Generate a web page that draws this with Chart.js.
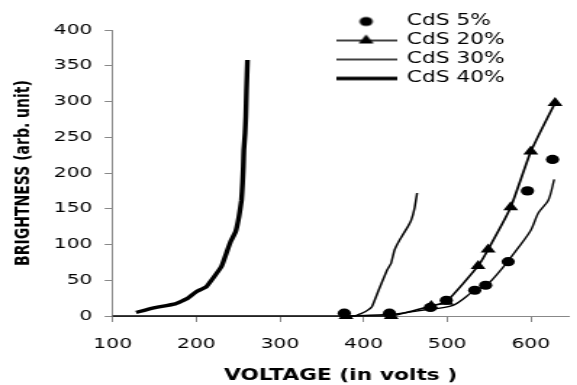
<!DOCTYPE html>
<html><head><meta charset="utf-8">
<script src="https://cdn.jsdelivr.net/npm/chart.js@4.4.1/dist/chart.umd.min.js"></script>
<style>
html,body{margin:0;padding:0;background:#fff;overflow:hidden;width:577px;height:385px}
#c{display:block;transform:scaleX(1.45);transform-origin:0 0}
</style></head>
<body>
<canvas id="c" width="398" height="385" style="width:398px;height:385px"></canvas>
<script>
// ---- data (voltage in volts, brightness in arb. unit) ----
const cds5V   = [377, 431, 480, 499, 533, 546, 573, 596, 626];
const cds5B   = [4, 4, 12, 22, 36, 43, 76, 175, 219];
const trend5V = [380, 431, 470, 507, 533, 547, 566, 586, 600, 609, 621, 628];
const trend5B = [0, 2, 8, 15, 36, 43, 67, 97, 120, 144, 162, 191];
const cds20V  = [379, 433, 481, 499, 537, 549, 576, 600, 629];
const cds20B  = [0, 0, 14, 20, 70, 93, 152, 230, 298];
const cds30V  = [100, 390, 396, 402, 410, 418, 428, 433, 437, 443, 453, 457, 461, 464];
const cds30B  = [0, 0, 3, 6, 13, 36, 64, 74, 92, 106, 125, 134, 151, 172];
const cds40V  = [128, 148, 175, 190, 200, 212, 230, 236, 241, 247, 251, 254, 255.3, 256.2, 256.8, 258.3, 259.2, 260, 261.2];
const cds40B  = [5, 11, 17, 25, 34, 41, 69, 88, 104, 118, 139, 162, 186, 209, 232, 256, 279, 316, 358];
const seriesNames = ['CdS 5%', 'CdS 20%', 'CdS 30%', 'CdS 40%'];
const xTicks = [100, 200, 300, 400, 500, 600];
const yTicks = [0, 50, 100, 150, 200, 250, 300, 350, 400];

const pts = (xs, ys) => xs.map((x, i) => ({x: x, y: ys[i]}));

// legend icons
function icon(kind) {
  const c = document.createElement('canvas');
  c.width = 42; c.height = 16;
  const g = c.getContext('2d');
  g.fillStyle = '#000'; g.strokeStyle = '#000';
  if (kind === 'circle') {
    g.beginPath(); g.arc(21, 8, 4.6, 0, Math.PI * 2); g.fill();
  } else {
    const lw = kind === 'tri' ? 1.6 : (kind === 'thin' ? 1.4 : 3.6);
    g.lineWidth = lw;
    g.beginPath(); g.moveTo(0, 8); g.lineTo(42, 8); g.stroke();
    if (kind === 'tri') {
      g.beginPath(); g.moveTo(21, 2); g.lineTo(26.2, 11); g.lineTo(15.8, 11); g.closePath(); g.fill();
    }
  }
  return c;
}
const icons = [icon('circle'), icon('tri'), icon('thin'), icon('thick')];

Chart.defaults.font.family = "'DejaVu Sans', Verdana, sans-serif";
Chart.defaults.color = '#000';

const legendPos = {
  id: 'legendPos',
  afterLayout(chart) {
    const l = chart.legend;
    if (!l) return;
    const w = l.width, h = l.height;
    l.left = 228; l.top = 10; l.right = l.left + w; l.bottom = l.top + h;
  }
};

new Chart(document.getElementById('c'), {
  type: 'line',
  data: {
    datasets: [
      { label: seriesNames[0], data: pts(cds5V, cds5B), showLine: false,
        pointStyle: 'circle', pointRadius: 4.6, pointBackgroundColor: '#000', pointBorderWidth: 0,
        borderColor: '#000', clip: false },
      { label: 'trend', data: pts(trend5V, trend5B), borderColor: '#000', borderWidth: 1.4,
        pointRadius: 0, tension: 0.3, clip: false },
      { label: seriesNames[1], data: pts(cds20V, cds20B), borderColor: '#000', borderWidth: 1.7,
        pointStyle: 'triangle', pointRadius: 6, pointBackgroundColor: '#000', pointBorderWidth: 0,
        tension: 0.15, clip: false },
      { label: seriesNames[2], data: pts(cds30V, cds30B), borderColor: '#000', borderWidth: 1.5,
        pointRadius: 0, tension: 0.1, clip: false },
      { label: seriesNames[3], data: pts(cds40V, cds40B), borderColor: '#000', borderWidth: 3.4,
        pointRadius: 0, tension: 0.1, borderJoinStyle: 'round', borderCapStyle: 'butt', clip: false }
    ]
  },
  options: {
    responsive: false,
    animation: false,
    devicePixelRatio: 1,
    layout: { padding: { top: 30, left: 0, right: 0, bottom: 0 } },
    plugins: {
      tooltip: { enabled: false },
      legend: {
        position: 'chartArea',
        align: 'start',
        labels: {
          usePointStyle: true,
          pointStyleWidth: 41,
          padding: 4,
          color: '#000',
          font: { size: 15 },
          generateLabels: () => seriesNames.map((t, i) => ({
            text: t, pointStyle: icons[i], fillStyle: '#000', strokeStyle: '#000',
            lineWidth: 0, hidden: false, datasetIndex: i
          }))
        }
      }
    },
    scales: {
      x: {
        type: 'linear', position: 'bottom', min: 100, max: 645,
        afterBuildTicks: (s) => { s.ticks = xTicks.map(v => ({value: v})); },
        afterFit: (s) => { s.height = 69; },
        ticks: { includeBounds: false, padding: 14, color: '#000', font: { size: 14 } },
        grid: { drawOnChartArea: false, drawTicks: true, tickLength: 6, color: '#888', lineWidth: 1 },
        border: { display: true, color: '#888', width: 1 },
        title: { display: true, text: 'VOLTAGE (in volts )', color: '#000',
                 font: { size: 15, weight: 'bold' }, padding: { top: 0, bottom: 0 } }
      },
      y: {
        type: 'linear', position: 'left', min: 0, max: 400,
        afterBuildTicks: (s) => { s.ticks = yTicks.map(v => ({value: v})); },
        afterFit: (s) => { s.width = 77.7; },
        ticks: { padding: 8.5, color: '#000', font: { size: 14 } },
        grid: { drawOnChartArea: false, drawTicks: true, tickLength: 5.5, color: '#888', lineWidth: 1 },
        border: { display: true, color: '#888', width: 1 },
        title: { display: true, text: 'BRIGHTNESS (arb. unit)', color: '#000',
                 font: { size: 14, weight: 'bold' }, padding: { top: 8, bottom: 0 } }
      }
    }
  },
  plugins: [legendPos]
});
</script>
</body></html>
